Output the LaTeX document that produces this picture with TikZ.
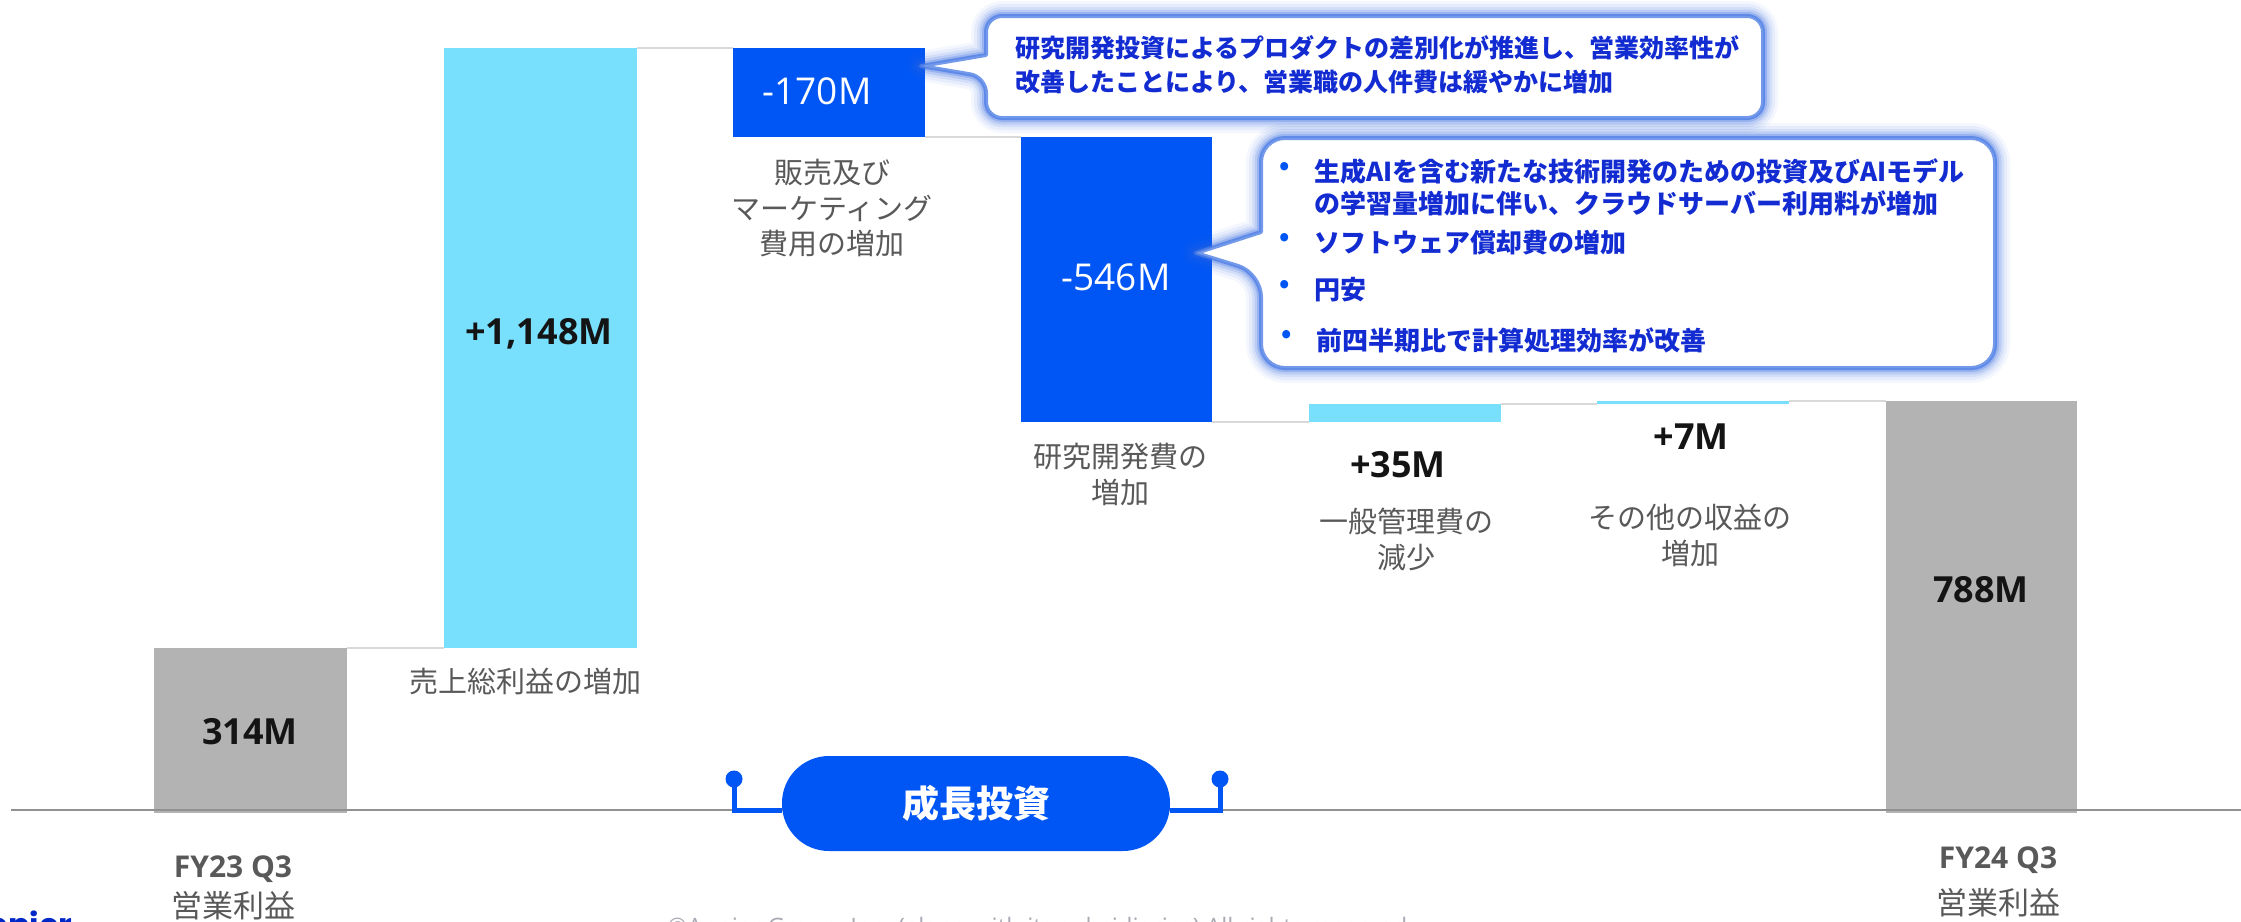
\documentclass[tikz,border=0pt]{standalone}
\usepackage{fontspec}
\setmainfont{Open Sans}
\newfontfamily\jp{Noto Sans CJK JP}
\newfontfamily\logof{Poppins}
\usetikzlibrary{fit}
\definecolor{lblue}{RGB}{120,224,252}
\definecolor{dblue}{RGB}{0,85,245}
\definecolor{gbar}{RGB}{179,179,179}
\definecolor{labc}{RGB}{89,89,89}
\definecolor{numc}{RGB}{20,20,20}
\definecolor{ctext}{RGB}{18,44,210}
\definecolor{glowc}{RGB}{50,105,225}
\definecolor{connc}{RGB}{217,217,217}
\definecolor{axisc}{RGB}{145,145,145}
\definecolor{copyc}{RGB}{170,170,180}
\definecolor{logoc}{RGB}{0,40,200}

% callout: #1 L, #2 T, #3 R, #4 B, #5 y1, #6 y2, #7 tipx, #8 tipy, #9 radius
\newcommand\callout[9]{%
  \foreach \w/\o in {15pt/0.05,12pt/0.07,9pt/0.1,6.5pt/0.15,4pt/0.25}{%
    \draw[glowc, line width=\w, opacity=\o, line join=round, rounded corners=#9]
      ({(#1+#3)/2},#2) -- (#3,#2) -- (#3,#4) -- (#1,#4) -- (#1,#6) [sharp corners] -- (#7,#8) -- (#1,#5) [rounded corners=#9] -- (#1,#2) -- cycle;}
  \fill[white, rounded corners=#9]
      ({(#1+#3)/2},#2) -- (#3,#2) -- (#3,#4) -- (#1,#4) -- (#1,#6) [sharp corners] -- (#7,#8) -- (#1,#5) [rounded corners=#9] -- (#1,#2) -- cycle;
  \draw[glowc!85, line width=2pt, opacity=0.8, line join=round, rounded corners=#9]
      ({(#1+#3)/2},#2) -- (#3,#2) -- (#3,#4) -- (#1,#4) -- (#1,#6) [sharp corners] -- (#7,#8) -- (#1,#5) [rounded corners=#9] -- (#1,#2) -- cycle;
}

\tikzset{
  bar/.style={inner sep=0pt, outer sep=0pt, draw=none},
  conn/.style={draw=connc, line width=1.3pt},
  axis/.style={draw=axisc, line width=1.2pt},
  brk/.style={draw=dblue, line width=2.5pt},
  dotn/.style={circle, fill=dblue, inner sep=0pt, minimum size=8.5pt},
  num/.style={inner sep=0pt, text=numc, font=\bfseries\fontsize{18}{22}\selectfont},
  wnum/.style={inner sep=0pt, text=white, font=\fontsize{18.5}{22}\selectfont},
  lab/.style={inner sep=0pt, text=labc, align=center, font=\jp\fontsize{14.5}{17.75}\selectfont},
  fy/.style={inner sep=0pt, text=labc, font=\bfseries\fontsize{15}{18}\selectfont},
  fyj/.style={inner sep=0pt, text=labc, font=\jp\fontsize{15.5}{18}\selectfont},
  ctA/.style={anchor=west, inner sep=0pt, text=ctext, font=\jp\bfseries\fontsize{12.5}{15}\selectfont},
  ctB/.style={anchor=west, inner sep=0pt, text=ctext, font=\jp\bfseries\fontsize{13}{15}\selectfont},
  bul/.style={inner sep=0pt, text=dblue, font=\jp\bfseries\fontsize{13}{15}\selectfont},
  pillbox/.style={fill=dblue, rounded corners=23.5pt, minimum width=194pt, minimum height=47.5pt, inner sep=0pt, text=white, font=\jp\bfseries\fontsize{18.5}{22}\selectfont},
  copyn/.style={anchor=base west, inner sep=0pt, text=copyc, font=\fontsize{12}{14}\selectfont},
  logon/.style={anchor=base east, inner sep=0pt, text=logoc, font=\logof\bfseries\fontsize{16}{18}\selectfont},
}

\begin{document}
\begin{tikzpicture}[x=0.5pt, y=-0.5pt]
\useasboundingbox (0,0) rectangle (2241,921);
\clip (0,0) rectangle (2241,921);
\fill[white] (0,0) rectangle (2241,921);

% bars
\node[bar, fill=gbar,  fit={(154,648) (347,813)}]   (b1) {};
\node[bar, fill=lblue, fit={(444,48) (637,648)}]    (b2) {};
\node[bar, fill=dblue, fit={(733,48) (925,137)}]    (b3) {};
\node[bar, fill=dblue, fit={(1021,137) (1212,422)}] (b4) {};
\node[bar, fill=lblue, fit={(1309,404) (1501,422)}] (b5) {};
\node[bar, fill=lblue, fit={(1597,401) (1789,404)}] (b6) {};
\node[bar, fill=gbar,  fit={(1886,401) (2077,813)}] (b7) {};

% connectors
\draw[conn] (b1.north east) -- (b2.south west);
\draw[conn] (b2.north east) -- (b3.north west);
\draw[conn] (b3.south east) -- (b4.north west);
\draw[conn] (b4.south east) -- (b5.south west);
\draw[conn] (b5.north east) -- (b6.south west);
\draw[conn] (b6.north east) -- (b7.north west);

% axis
\coordinate (axL) at (11,810);
\coordinate (axR) at (2241,810);
\draw[axis] (axL) -- (axR);

% bar values
\node[num]  (v1) at (250,732)  {314M};
\node[num]  (v2) at (539,334)  {+1,148M};
\node[wnum] (v3) at (817,91)   {-170M};
\node[wnum] (v4) at (1116,277) {-546M};
\node[num]  (v5) at (1398,465) {+35M};
\node[num]  (v6) at (1691,437) {+7M};
\node[num]  (v7) at (1981,590) {788M};

% category labels
\node[lab] (l2) at (525,681) {売上総利益の増加};
\node[lab] (l3) at (832,208.5) {販売及び\\マーケティング\\費用の増加};
\node[lab] (l4) at (1120,474.5) {研究開発費の\\増加};
\node[lab] (l5) at (1406,539.5) {一般管理費の\\減少};
\node[lab] (l6) at (1690,535.5) {その他の収益の\\増加};

\node[fy]  (f1) at (233,869) {FY23 Q3};
\node[fyj] (f1j) at (233,906) {営業利益};
\node[fy]  (f7) at (1998,860) {FY24 Q3};
\node[fyj] (f7j) at (1998,902.5) {営業利益};

% growth investment bracket
\node[dotn] (dL) at (734,779) {};
\node[dotn] (dR) at (1220,779) {};
\coordinate (pl) at (782,810);
\coordinate (pr) at (1170,810);
\draw[brk] (dL.center) |- (pl);
\draw[brk] (dR.center) |- (pr);
\node[pillbox] (pill) at (976,803.5) {成長投資};

% callouts
\callout{986}{16}{1763}{118}{55}{77}{921}{66}{8pt}
\node[ctA] (c1a) at (1015,48) {研究開発投資によるプロダクトの差別化が推進し、営業効率性が};
\node[ctA] (c1b) at (1015,82) {改善したことにより、営業職の人件費は緩やかに増加};

\callout{1261}{138}{1995}{368}{232}{273}{1196}{253}{12pt}
\node[bul] (bu1) at (1285,168) {•};
\node[bul] (bu2) at (1285,239) {•};
\node[bul] (bu3) at (1285,286) {•};
\node[bul] (bu4) at (1287,336) {•};
\node[ctB] (c2a) at (1314,172) {生成AIを含む新たな技術開発のための投資及びAIモデル};
\node[ctB] (c2b) at (1314,203) {の学習量増加に伴い、クラウドサーバー利用料が増加};
\node[ctB] (c2c) at (1314,243) {ソフトウェア償却費の増加};
\node[ctB] (c2d) at (1314,290) {円安};
\node[ctB] (c2e) at (1316,340) {前四半期比で計算処理効率が改善};

% footer (cut off at the lower edge, as in the reference)
\node[copyn] (copy) at (667,935) {©Appier Group, Inc. (along with its subsidiaries) All rights reserved.};
\node[logon] (logo) at (73,936) {appier};
\end{tikzpicture}
\end{document}
